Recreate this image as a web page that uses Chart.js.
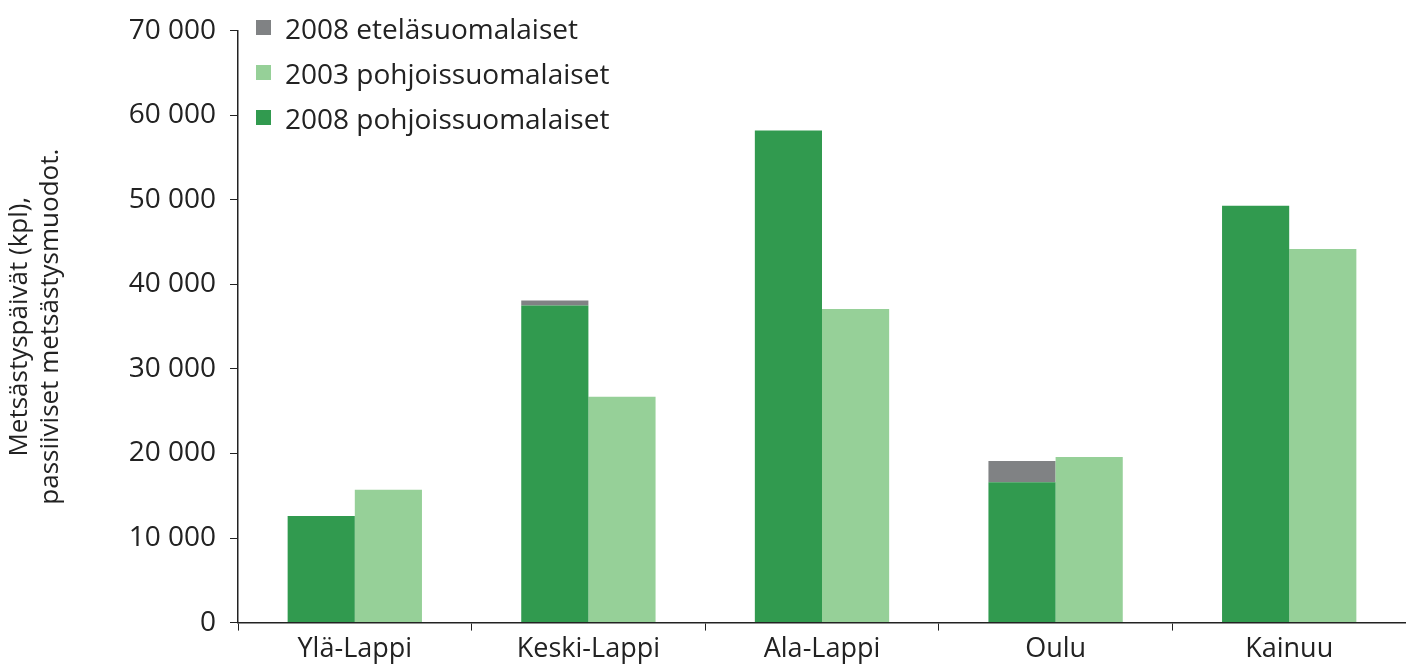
<!DOCTYPE html>
<html><head><meta charset="utf-8">
<script src="https://cdn.jsdelivr.net/npm/chart.js@4/dist/chart.umd.min.js"></script>
<style>
html,body{margin:0;padding:0;background:#fff;}
#wrap{position:relative;width:1406px;height:669px;}
#legend{position:absolute;left:256px;top:5px;font-family:"Open Sans",sans-serif;font-size:28px;color:#222;}
#legend div{display:flex;align-items:center;height:45px;}
#legend span.b{display:inline-block;width:15px;height:15px;margin-right:14px;}
</style></head><body>
<div id="wrap"><canvas id="c" width="1406" height="669"></canvas><div id="legend"></div></div>
<script>
const categories = ["Ylä-Lappi","Keski-Lappi","Ala-Lappi","Oulu","Kainuu"];
const north2008 = [12600, 37500, 58200, 16600, 49300];
const south2008 = [0, 600, 0, 2500, 0];
const north2003 = [15700, 26700, 37100, 19600, 44200];
const yTicks = [0,10000,20000,30000,40000,50000,60000,70000];

const datasets = [
 {label:"2008 pohjoissuomalaiset", data:north2008, backgroundColor:"#319a4f", stack:"a"},
 {label:"2003 pohjoissuomalaiset", data:north2003, backgroundColor:"#96d098", stack:"b"},
 {label:"2008 eteläsuomalaiset", data:south2008, backgroundColor:"#808284", stack:"a"}
];
const fmt = v => String(v).replace(/\B(?=(\d{3})+(?!\d))/g, " ");
const F = "'Open Sans', sans-serif";
new Chart(document.getElementById("c"), {
 type:"bar",
 data:{labels:categories, datasets:datasets},
 options:{
  responsive:false, animation:false,
  datasets:{bar:{barPercentage:1, categoryPercentage:0.575}},
  layout:{padding:{top:4,right:0,left:4,bottom:0}},
  plugins:{legend:{display:false}, tooltip:{enabled:false}},
  scales:{
   x:{stacked:true, grid:{display:true, drawOnChartArea:false, offset:true, color:"#222", tickLength:8},
      border:{color:"#222",width:1.5},
      ticks:{font:{family:F,size:27}, color:"#222", padding:3}},
   y:{stacked:true, min:0, max:70000, afterBuildTicks:a=>{a.ticks=yTicks.map(v=>({value:v}));},
      afterFit:s=>{s.width=234;},
      grid:{display:true, drawOnChartArea:false, color:"#222", tickLength:8},
      border:{color:"#222",width:1.5},
      ticks:{font:{family:F,size:28}, color:"#222", padding:14, callback:v=>fmt(v)},
      title:{display:true, text:["Metsästyspäivät (kpl),","passiiviset metsästysmuodot."], font:{family:F,size:26}, color:"#222", padding:{top:0,bottom:4}}}
  }
 }
});
const lg = document.getElementById("legend");
datasets.slice().reverse().forEach(d=>{
 const r=document.createElement("div");
 r.innerHTML='<span class="b" style="background:'+d.backgroundColor+'"></span>'+d.label;
 lg.appendChild(r);
});
</script></body></html>
